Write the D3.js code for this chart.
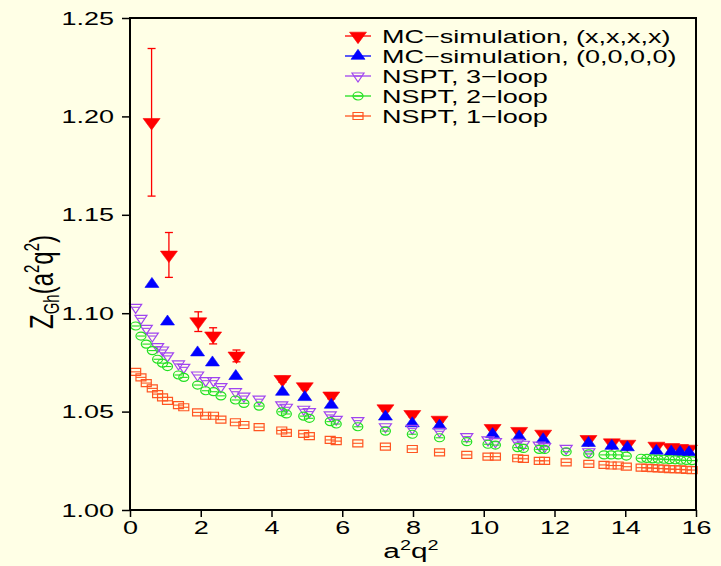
<!DOCTYPE html>
<html><head><meta charset="utf-8">
<script src="https://cdn.jsdelivr.net/npm/d3@7"></script>
<style>
html,body{margin:0;padding:0;background:#FFFFE6;}
svg{display:block;font-family:"Liberation Sans",Arial,Helvetica,sans-serif;}
</style></head><body>
<svg id="chart" width="721" height="566"></svg>
<script>
// Ghost dressing function Z_Gh versus a^2 q^2

// Monte Carlo, momenta along (x,x,x,x)
const mcDiagQ2 = [0.61, 1.10, 1.93, 2.35, 3.01, 4.31, 4.94, 5.69, 7.22, 7.98, 8.75, 10.25, 11.00, 11.68, 12.96, 13.62, 14.06, 14.88, 15.30, 15.55, 15.80];
const mcDiagZ = [1.1970, 1.1296, 1.0957, 1.0885, 1.0783, 1.0664, 1.0627, 1.0580, 1.0515, 1.0486, 1.0457, 1.0415, 1.0400, 1.0386, 1.0359, 1.0342, 1.0335, 1.0325, 1.0318, 1.0313, 1.0310];
const mcDiagErr = [0.0375, 0.0114, 0.0050, 0.0041, 0.0030, 0.0015, 0.0015, 0.0015, 0.0012, 0.0012, 0.0012, 0.0010, 0.0010, 0.0010, 0.0010, 0.0010, 0.0010, 0.0008, 0.0008, 0.0008, 0.0008];

// Monte Carlo, momenta along (0,0,0,0)
const mcZeroQ2 = [0.62, 1.06, 1.91, 2.33, 2.99, 4.31, 4.94, 5.69, 7.22, 7.98, 8.75, 10.25, 11.00, 11.68, 12.96, 13.62, 14.06, 14.88, 15.30, 15.55, 15.80];
const mcZeroZ = [1.1148, 1.0957, 1.0800, 1.0749, 1.0680, 1.0600, 1.0573, 1.0534, 1.0474, 1.0440, 1.0428, 1.0385, 1.0373, 1.0359, 1.0340, 1.0325, 1.0318, 1.0300, 1.0296, 1.0294, 1.0292];

// NSPT momenta (shared by all loop orders)
const nsptQ2 = [0.16, 0.31, 0.46, 0.63, 0.78, 0.92, 1.06, 1.37, 1.52, 1.91, 2.14, 2.36, 2.57, 2.98, 3.22, 3.65, 4.29, 4.42, 4.91, 5.07,
  5.66, 5.83, 6.44, 7.22, 7.98, 8.75, 9.52, 10.12, 10.33, 10.96, 11.12, 11.57, 11.72, 12.33, 12.97, 13.40, 13.60, 13.80, 14.03,
  14.45, 14.61, 14.77, 14.93, 15.09, 15.25, 15.41, 15.57, 15.73, 15.89];
const nspt3Z = [1.1030, 1.0974, 1.0923, 1.0884, 1.0830, 1.0813, 1.0783, 1.0742, 1.0725, 1.0686, 1.0657, 1.0657, 1.0627, 1.0601, 1.0579, 1.0563, 1.0534, 1.0522, 1.0512, 1.0500,
  1.0483, 1.0461, 1.0454, 1.0423, 1.0415, 1.0400, 1.0373, 1.0356, 1.0347, 1.0344, 1.0334, 1.0330, 1.0322, 1.0313, 1.0296];
const nspt2Z = [1.0935, 1.0884, 1.0843, 1.0810, 1.0766, 1.0746, 1.0729, 1.0686, 1.0674, 1.0635, 1.0606, 1.0601, 1.0580, 1.0559, 1.0542, 1.0528, 1.0499, 1.0488, 1.0477, 1.0466,
  1.0449, 1.0437, 1.0423, 1.0401, 1.0385, 1.0367, 1.0347, 1.0334, 1.0330, 1.0317, 1.0313, 1.0308, 1.0308, 1.0296, 1.0285, 1.0280, 1.0280, 1.0280, 1.0274,
  1.0263, 1.0262, 1.0260, 1.0259, 1.0258, 1.0256, 1.0255, 1.0253, 1.0252, 1.0251];
const nspt1Z = [1.0702, 1.0674, 1.0645, 1.0618, 1.0589, 1.0572, 1.0555, 1.0533, 1.0522, 1.0496, 1.0479, 1.0479, 1.0459, 1.0446, 1.0432, 1.0421, 1.0404, 1.0392, 1.0387, 1.0375,
  1.0356, 1.0350, 1.0339, 1.0322, 1.0310, 1.0293, 1.0280, 1.0271, 1.0271, 1.0263, 1.0260, 1.0250, 1.0250, 1.0242, 1.0234, 1.0229, 1.0226, 1.0226, 1.0220,
  1.0215, 1.0214, 1.0213, 1.0211, 1.0210, 1.0208, 1.0207, 1.0206, 1.0204, 1.0203];

const xTicks = [0, 2, 4, 6, 8, 10, 12, 14, 16];
const yTicks = [1.00, 1.05, 1.10, 1.15, 1.20, 1.25];
const legendLabels = ["MC\u2212simulation, (x,x,x,x)", "MC\u2212simulation, (0,0,0,0)", "NSPT, 3\u2212loop", "NSPT, 2\u2212loop", "NSPT, 1\u2212loop"];

const SX = 1.42;          // horizontal text stretch
const FS = 19;
const svg = d3.select("#chart");
svg.append("rect").attr("width", 721).attr("height", 566).attr("fill", "#FFFFE6");

const m = {left: 130, right: 696, top: 18, bottom: 510};
const x = d3.scaleLinear().domain([0, 16]).range([m.left, m.right]);
const y = d3.scaleLinear().domain([1.00, 1.25]).range([m.bottom, m.top]);

// marker shapes, centred on the data point
const shapes = {
  triDown: (w, h) => `M${-w/2},${-h/3}L${w/2},${-h/3}L0,${2*h/3}Z`,
  triUp: (w, h) => `M${-w/2},${h/3}L${w/2},${h/3}L0,${-2*h/3}Z`,
  ellipse: (w, h) => `M${-w/2},0A${w/2},${h/2} 0 1,0 ${w/2},0A${w/2},${h/2} 0 1,0 ${-w/2},0Z`,
  rect: (w, h) => `M${-w/2},${-h/2}H${w/2}V${h/2}H${-w/2}Z`
};

const series = [
  {q2: mcDiagQ2, z: mcDiagZ, err: mcDiagErr, color: "#FF0000", shape: "triDown", w: 17, h: 11.5, fill: true},
  {q2: mcZeroQ2, z: mcZeroZ, color: "#0000FF", shape: "triUp", w: 14, h: 10, fill: true},
  {q2: nsptQ2, z: nspt3Z, color: "#A045F0", shape: "triDown", w: 12, h: 9, fill: false, bar: 7},
  {q2: nsptQ2, z: nspt2Z, color: "#22E022", shape: "ellipse", w: 10, h: 8, fill: false, bar: 8},
  {q2: nsptQ2, z: nspt1Z, color: "#FF5522", shape: "rect", w: 10, h: 7, fill: false, bar: 10}
];

function drawMarker(g, s) {
  g.append("path").attr("d", shapes[s.shape](s.w, s.h))
    .attr("fill", s.fill ? s.color : "none")
    .attr("stroke", s.color).attr("stroke-width", s.fill ? 0.6 : 1.2);
  if (s.bar) {
    g.append("line").attr("x1", -s.bar/2).attr("x2", s.bar/2).attr("y1", 0).attr("y2", 0)
      .attr("stroke", s.color).attr("stroke-width", 1.1);
  }
}

const plot = svg.append("g");
series.forEach(s => {
  const pts = s.z.map((v, i) => ({q2: s.q2[i], z: v, e: s.err ? s.err[i] : 0}));
  const g = plot.append("g");
  if (s.err) {
    const eb = g.selectAll("g.eb").data(pts).enter().append("g").attr("class", "eb")
      .attr("stroke", s.color).attr("stroke-width", 1.3);
    eb.append("line").attr("x1", d => x(d.q2)).attr("x2", d => x(d.q2))
      .attr("y1", d => y(d.z + d.e)).attr("y2", d => y(d.z - d.e));
    eb.append("line").attr("x1", d => x(d.q2) - 4).attr("x2", d => x(d.q2) + 4)
      .attr("y1", d => y(d.z + d.e)).attr("y2", d => y(d.z + d.e));
    eb.append("line").attr("x1", d => x(d.q2) - 4).attr("x2", d => x(d.q2) + 4)
      .attr("y1", d => y(d.z - d.e)).attr("y2", d => y(d.z - d.e));
  }
  g.selectAll("g.pt").data(pts).enter().append("g").attr("class", "pt")
    .attr("transform", d => `translate(${x(d.q2)},${y(d.z)})`)
    .each(function() { drawMarker(d3.select(this), s); });
});

// axes
const xAxis = svg.append("g").attr("transform", `translate(0,${m.bottom})`)
  .call(d3.axisBottom(x).tickValues(xTicks).tickSize(7).tickPadding(4).tickFormat(d3.format("d")));
const yAxis = svg.append("g").attr("transform", `translate(${m.left},0)`)
  .call(d3.axisLeft(y).tickValues(yTicks).tickSize(8).tickFormat(d3.format(".2f")));
[xAxis, yAxis].forEach(a => {
  a.select(".domain").remove();
  a.selectAll(".tick line").attr("stroke", "#000").attr("stroke-width", 1.5);
  a.selectAll("text").attr("font-size", FS).attr("fill", "#000").attr("font-family", null);
});
xAxis.selectAll("text").attr("transform", `scale(${SX},1)`).attr("x", 0);
yAxis.selectAll("text").attr("x", -16 / SX).attr("transform", `scale(${SX},1)`);

svg.append("rect").attr("x", m.left).attr("y", m.top)
  .attr("width", m.right - m.left).attr("height", m.bottom - m.top)
  .attr("fill", "none").attr("stroke", "#000").attr("stroke-width", 2);

// axis titles
const xt = svg.append("g").attr("transform", `translate(${(m.left + m.right) / 2 - 2},558) scale(${SX},1)`)
  .append("text").attr("text-anchor", "middle").attr("font-size", 21);
xt.append("tspan").text("a");
xt.append("tspan").attr("font-size", 14).attr("dy", -8).text("2");
xt.append("tspan").attr("dy", 8).text("q");
xt.append("tspan").attr("font-size", 14).attr("dy", -8).text("2");

const yt = svg.append("g").attr("transform", `translate(53,282) scale(${SX},1) rotate(-90)`)
  .append("text").attr("text-anchor", "middle").attr("font-size", 24);
yt.append("tspan").text("Z");
yt.append("tspan").attr("font-size", 15).attr("dy", 4).text("Gh");
yt.append("tspan").attr("dy", -4).text("(a");
yt.append("tspan").attr("font-size", 15).attr("dy", -10).text("2");
yt.append("tspan").attr("dy", 10).text("q");
yt.append("tspan").attr("font-size", 15).attr("dy", -10).text("2");
yt.append("tspan").attr("dy", 10).text(")");

// legend
const leg = svg.append("g");
series.forEach((s, i) => {
  const ly = 36 + i * 20;
  const row = leg.append("g").attr("transform", `translate(358,${ly})`);
  row.append("line").attr("x1", -13).attr("x2", 13).attr("stroke", s.color).attr("stroke-width", 1.3);
  drawMarker(row, s);
  leg.append("g").attr("transform", `translate(382,${ly + 7}) scale(${SX},1)`)
    .append("text").attr("font-size", FS).attr("fill", "#000").text(legendLabels[i]);
});
</script>
</body></html>
